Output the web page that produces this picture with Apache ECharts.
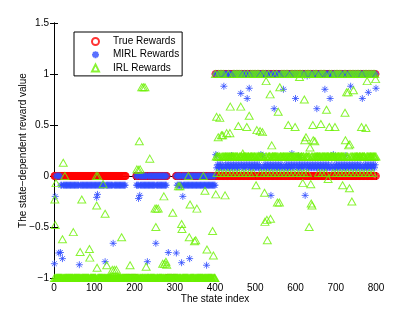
<!DOCTYPE html>
<html><head><meta charset="utf-8">
<script src="https://cdn.jsdelivr.net/npm/echarts@6/dist/echarts.min.js"></script>
<style>html,body{margin:0;padding:0;background:#fff}#c{width:415px;height:312px}</style>
</head><body><div id="c"></div>
<script>
const seriesNames = ['True Rewards', 'MIRL Rewards', 'IRL Rewards'];
const xTicks = [0, 100, 200, 300, 400, 500, 600, 700, 800];
const yTicks = [-1, -0.5, 0, 0.5, 1, 1.5];
const stateCount = 800;

// Flat reward levels: [first state, last state, every n-th state, value]
const trueLevels = [
  [1, 178, 1, 0], [179, 203, 1, -1], [204, 280, 1, 0], [281, 302, 1, -1], [303, 400, 1, 0],
  [401, 800, 2, 1], [402, 800, 2, 0]
];
const mirlLevels = [
  [1, 178, 2, 0], [17, 178, 2, -0.09], [179, 203, 1, -1], [204, 280, 2, 0], [205, 280, 2, -0.09],
  [281, 302, 1, -1], [303, 400, 2, 0], [304, 400, 2, -0.09],
  [401, 800, 2, 1], [402, 800, 4, 0.11], [404, 800, 4, 0.08]
];
const irlLevels = [
  [1, 400, 1, -1],
  [401, 800, 1, 0.19], [401, 800, 4, 1], [405, 800, 9, 0.03]
];

// Scattered points: [state, value]
const trueOutliers = [];
const mirlOutliers = [
  [1, -0.86], [3, -0.2], [12, -0.755], [16, -0.75], [21, -0.81], [63, -0.87], [106, -0.21], [108, -0.18],
  [127, -0.84], [147, -0.66], [210, -0.22], [213, -0.19], [232, -0.84], [253, -0.66], [284, -0.75],
  [304, -0.755], [317, -0.85], [320, -0.2], [337, -0.81], [379, -0.875],
  [402, 0.21], [405, 0.2], [422, 0.88], [441, 0.2], [464, 0.81], [480, 0.76], [485, 0.86], [514, 0.21],
  [518, 0.2], [539, -0.19], [547, 0.66], [570, 0.85], [591, 0.22], [600, 0.76], [607, 0.2], [611, 0.18],
  [624, -0.19], [629, 0.98], [653, 0.66], [673, 0.85], [686, 0.76], [694, 0.21], [725, 0.2], [737, 0.88],
  [766, 0.76], [781, 0.82], [800, 0.86]
];
const irlOutliers = [
  [2, -0.23], [3, -0.48], [5, -0.07], [21, -0.62], [23, 0.13], [27, 0], [48, -0.55], [65, -0.745],
  [69, -0.23], [88, -0.715], [89, -0.8], [105, 0], [106, -0.29], [107, -0.9], [109, 0], [122, -0.08],
  [127, -0.37], [131, -0.875], [145, -0.92], [150, -0.92], [155, -0.92], [168, -0.6], [189, -0.875],
  [206, 0.065], [210, 0.06], [212, 0.34], [214, 0.065], [218, 0.87], [222, 0.87], [226, 0.87], [229, -0.89],
  [238, 0.17], [251, -0.32], [253, -0.5], [255, -0.32], [259, -0.32], [270, -0.86], [273, -0.2],
  [275, -0.86], [278, -0.84], [280, -0.87], [295, -0.36], [309, -0.1], [313, -0.1], [317, -0.47],
  [318, -0.52], [334, 0], [336, -0.6], [338, -0.28], [349, -0.64], [352, -0.63], [355, -0.32], [371, 0],
  [375, -0.145], [380, -0.72], [394, -0.54], [396, -0.78],
  [402, -0.18], [404, 0.58], [408, 0.38], [412, 0.57], [416, 0.4], [419, 0.4], [425, -0.19], [429, 0.42],
  [437, 0.42], [438, 0.68], [458, 0.49], [464, 0.68], [469, 0.22], [479, 0.48], [485, 0.59], [502, -0.09],
  [504, 0.45], [512, 0.44], [518, 0.43], [523, -0.165], [524, -0.45], [527, 0.93], [529, -0.43],
  [530, -0.63], [537, 0.8], [538, -0.42], [541, 0.3], [555, -0.26], [557, 0.63], [560, -0.26], [561, 0.87],
  [582, 0.5], [599, 0.48], [610, 0.97], [618, -0.07], [622, 0.75], [623, 0.35], [626, 0.38], [634, -0.5],
  [636, 0.28], [638, -0.08], [639, -0.27], [641, -0.29], [643, 0.5], [644, 0.35], [648, 0.34], [663, 0.51],
  [677, 0.65], [681, -0.03], [684, 0.48], [698, 0.48], [717, -0.09], [723, 0.62], [724, 0.35], [727, 0.82],
  [731, 0.82], [732, 0.3], [734, -0.12], [735, 0.31], [740, -0.25], [744, 0.84], [764, 0.48], [775, 0.47],
  [778, 0.93], [799, 0.95]
];

function buildSeries(levels, outliers) {
  const v = new Array(stateCount + 1).fill(null);
  levels.forEach(([a, b, step, val]) => { for (let i = a; i <= b; i += step) v[i] = val; });
  outliers.forEach(([i, val]) => { v[i] = val; });
  const out = [];
  for (let i = 1; i <= stateCount; i++) if (v[i] !== null) out.push([i, v[i]]);
  return out;
}

const FONT = 'Liberation Sans, Arial, Helvetica, sans-serif';
const RED = '#ff0000', BLUE = '#2f4cff', GREEN = '#6cf000';
const STAR = 'path://M5,0L5,10M0,5L10,5M1.5,1.5L8.5,8.5M1.5,8.5L8.5,1.5';

const chart = echarts.init(document.getElementById('c'), null, {renderer: 'canvas'});
const axisLine = {show: true, lineStyle: {color: '#000', width: 1}};
const tick = {show: true, inside: true, length: 4, lineStyle: {color: '#000', width: 1}};
const lbl = {color: '#000', fontSize: 10, fontFamily: FONT};
const fmt = v => String(v).replace('-', '\u2212');

chart.setOption({
  animation: false,
  backgroundColor: '#fff',
  grid: {left: 54, top: 23, width: 322, height: 255, containLabel: false},
  legend: {
    orient: 'vertical', left: 74, top: 32, padding: [4.5, 3, 3, 17],
    itemWidth: 7, itemHeight: 7, itemGap: 3.2,
    backgroundColor: '#fff', borderColor: '#000', borderWidth: 1, borderRadius: 0,
    textStyle: {fontSize: 10, color: '#000', fontFamily: FONT, padding: [0, 0, 0, 9]},
    data: seriesNames
  },
  xAxis: [
    {type: 'value', position: 'bottom', min: xTicks[0], max: xTicks[xTicks.length - 1], interval: xTicks[1] - xTicks[0],
     axisLine, axisTick: tick, splitLine: {show: false},
     axisLabel: Object.assign({margin: 5, formatter: fmt}, lbl),
     name: 'The state index', nameLocation: 'middle', nameGap: 16, nameMoveOverlap: false,
     nameTextStyle: {fontSize: 10, color: '#000', fontFamily: FONT}},
    {type: 'value', position: 'top', min: xTicks[0], max: xTicks[xTicks.length - 1], interval: xTicks[1] - xTicks[0],
     axisLine, axisTick: tick, splitLine: {show: false}, axisLabel: {show: false}}
  ],
  yAxis: [
    {type: 'value', position: 'left', min: yTicks[0], max: yTicks[yTicks.length - 1], interval: yTicks[1] - yTicks[0],
     axisLine, axisTick: tick, splitLine: {show: false},
     axisLabel: Object.assign({margin: 5, formatter: fmt}, lbl),
     name: 'The state\u2212dependent reward value', nameLocation: 'middle', nameGap: 26, nameMoveOverlap: false,
     nameTextStyle: {fontSize: 10, color: '#000', fontFamily: FONT}},
    {type: 'value', position: 'right', min: yTicks[0], max: yTicks[yTicks.length - 1], interval: yTicks[1] - yTicks[0],
     axisLine, axisTick: tick, splitLine: {show: false}, axisLabel: {show: false}}
  ],
  series: [
    {name: seriesNames[0], type: 'scatter', symbol: 'circle', symbolSize: 7, silent: true,
     itemStyle: {color: 'rgba(0,0,0,0)', borderColor: RED, borderWidth: 1},
     data: buildSeries(trueLevels, trueOutliers)},
    {name: seriesNames[1], type: 'scatter', symbol: STAR, symbolSize: 7, silent: true,
     itemStyle: {color: 'rgba(0,0,0,0)', borderColor: BLUE, borderWidth: 1},
     data: buildSeries(mirlLevels, mirlOutliers)},
    {name: seriesNames[2], type: 'scatter', symbol: 'triangle', symbolSize: [8, 7], silent: true,
     itemStyle: {color: 'rgba(0,0,0,0)', borderColor: GREEN, borderWidth: 1},
     data: buildSeries(irlLevels, irlOutliers)}
  ]
});
</script></body></html>
